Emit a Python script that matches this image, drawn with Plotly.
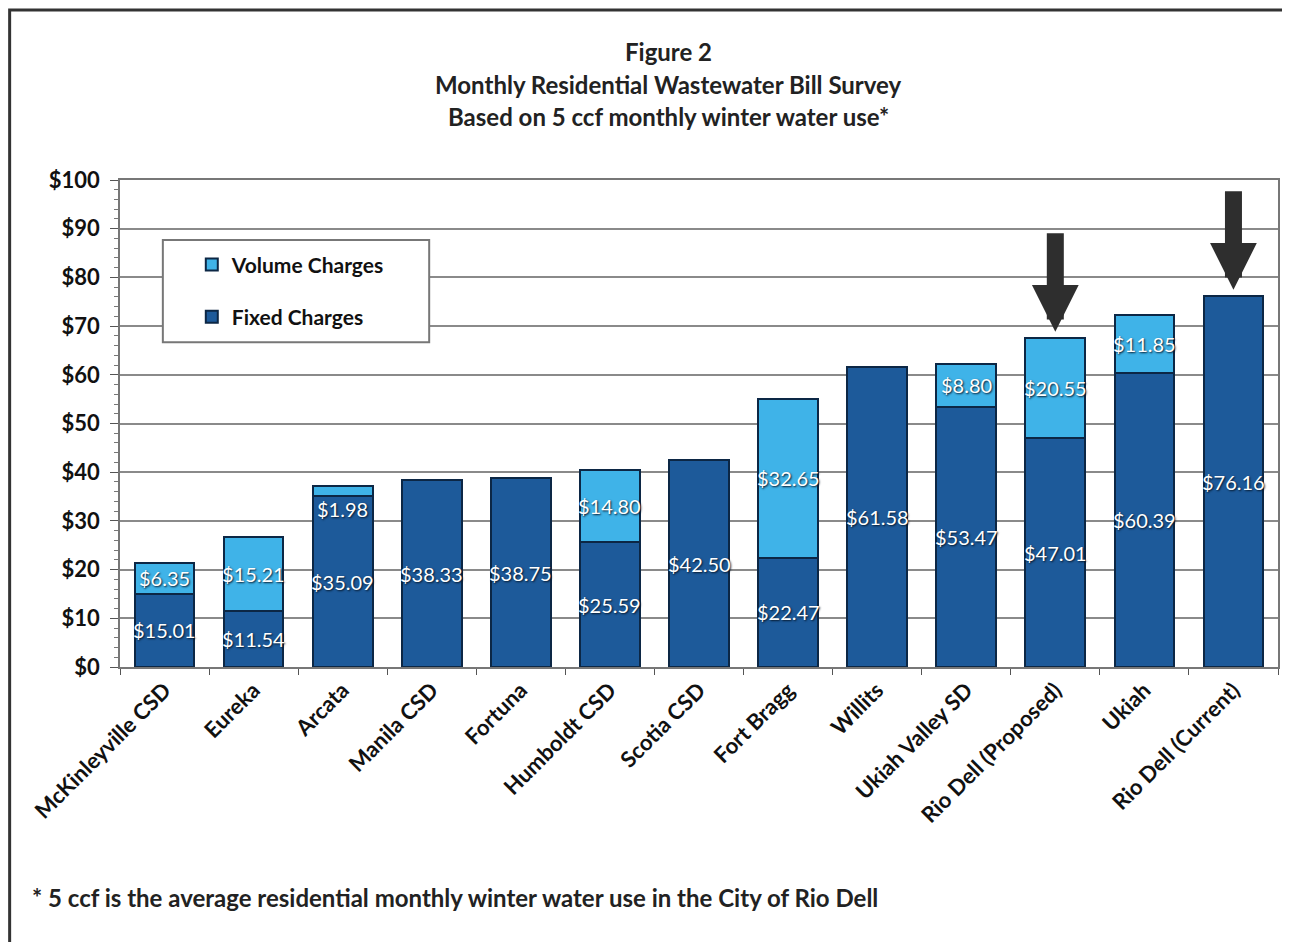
import plotly.graph_objects as go

categories = ["McKinleyville CSD", "Eureka", "Arcata", "Manila CSD", "Fortuna",
              "Humboldt CSD", "Scotia CSD", "Fort Bragg", "Willits", "Ukiah Valley SD",
              "Rio Dell (Proposed)", "Ukiah", "Rio Dell (Current)"]
fixed_charges = [15.01, 11.54, 35.09, 38.33, 38.75, 25.59, 42.50, 22.47, 61.58, 53.47, 47.01, 60.39, 76.16]
volume_charges = [6.35, 15.21, 1.98, 0, 0, 14.80, 0, 32.65, 0, 8.80, 20.55, 11.85, 0]
highlighted = ["Rio Dell (Proposed)", "Rio Dell (Current)"]

title_lines = ["Figure 2", "Monthly Residential Wastewater Bill Survey",
               "Based on 5 ccf monthly winter water use*"]
footnote = "* 5 ccf is the average residential monthly winter water use in the City of Rio Dell"

FIXED_COLOR = "#1d5a9a"
VOL_COLOR = "#3fb3e8"
EDGE = "#0c2745"
FONT = "Lato"

fig = go.Figure()
fig.add_trace(go.Bar(x=categories, y=fixed_charges, name="Fixed Charges",
                     marker=dict(color=FIXED_COLOR, line=dict(color=EDGE, width=2)),
                     legendgroup="f", legendrank=2))
fig.add_trace(go.Bar(x=categories, y=volume_charges, name="Volume Charges",
                     marker=dict(color=VOL_COLOR, line=dict(color=EDGE, width=2)),
                     legendgroup="v", legendrank=1))

annotations = []
label_font = dict(family=FONT, size=20, color="white", shadow="1px 1px 2px #06182c")
for c, f, v in zip(categories, fixed_charges, volume_charges):
    annotations.append(dict(x=c, y=f / 2, text=f"${f:.2f}", showarrow=False,
                            font=label_font, xref="x", yref="y"))
    if v > 0:
        if v < 4:
            ypos = f - 2.7
        else:
            ypos = f + v / 2
        annotations.append(dict(x=c, y=ypos, text=f"${v:.2f}", showarrow=False,
                                font=label_font, xref="x", yref="y"))

for c, f, v in zip(categories, fixed_charges, volume_charges):
    if c in highlighted:
        annotations.append(dict(x=c, y=f + v + 1.3, xref="x", yref="y", ax=0, ay=-100,
                                showarrow=True, arrowhead=2, arrowwidth=17, arrowsize=0.55,
                                arrowcolor="#2e2e2e", text=""))

for i, t in enumerate(title_lines):
    annotations.append(dict(text=f"<b>{t}</b>", x=0.474, y=1.263 - i * 0.066, xref="paper",
                            yref="paper", showarrow=False, xanchor="center", yanchor="middle",
                            font=dict(family=FONT, size=24, color="#222")))
annotations.append(dict(text=f"<b>{footnote}</b>", x=-0.0776, y=-0.474, xref="paper", yref="paper",
                        showarrow=False, xanchor="left", yanchor="middle",
                        font=dict(family=FONT, size=24, color="#222")))

fig.update_layout(
    width=1282, height=934,
    margin=dict(l=112, r=10, t=172, b=275),
    barmode="stack", bargap=0.33,
    paper_bgcolor="white", plot_bgcolor="white",
    font=dict(family=FONT, color="#111"),
    showlegend=True,
    legend=dict(x=0.062, y=0.868, xanchor="left", yanchor="top", bgcolor="rgba(0,0,0,0)",
                borderwidth=0, tracegroupgap=22,
                font=dict(family=FONT, size=21, color="#111", weight="bold"),
                itemwidth=30),
    annotations=annotations,
    shapes=[
        dict(type="rect", xref="paper", yref="paper", x0=-0.0953, x1=1.005, y0=-0.6, y1=1.349,
             line=dict(color="#333", width=3), layer="below"),
        dict(type="rect", xref="paper", yref="paper", x0=0.037, x1=0.267, y0=0.667, y1=0.877,
             line=dict(color="#777", width=2), fillcolor="white", layer="above"),
    ],
)
fig.update_yaxes(range=[0, 100], dtick=10, tickprefix="$", showgrid=True,
                 gridcolor="#8a8a8a", gridwidth=1.5, showline=True, linecolor="#777",
                 linewidth=1.5, mirror=True, ticks="outside", ticklen=8, tickcolor="#555",
                 ticklabelstandoff=6,
                 tickfont=dict(family=FONT, size=22, color="#111", weight="bold"),
                 minor=dict(dtick=2, ticks="outside", ticklen=4, tickcolor="#777", showgrid=False),
                 zeroline=False)
fig.update_xaxes(showline=True, linecolor="#777", linewidth=1.5, mirror=True,
                 tickangle=-45, ticks="outside", ticklen=6, tickcolor="#555",
                 tickson="boundaries",
                 tickfont=dict(family=FONT, size=22, color="#111", weight="bold"))

fig.write_html("out.html")
